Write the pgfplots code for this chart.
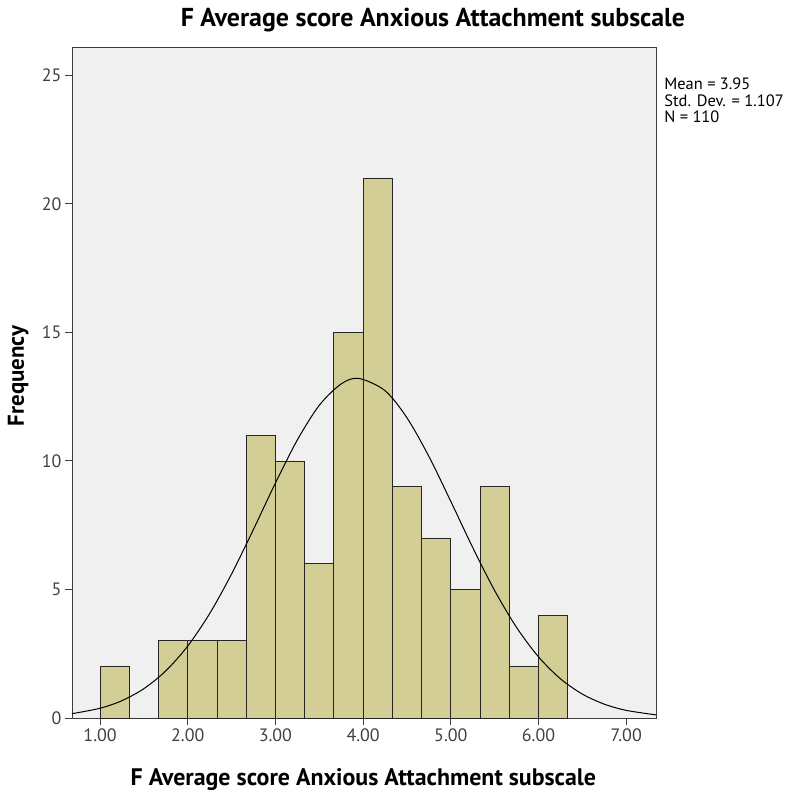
\documentclass[border=0pt]{standalone}
\usepackage{fontspec}
\setmainfont{PT Sans}
\usepackage{pgfplots}
\pgfplotsset{compat=1.18}
\definecolor{barfill}{RGB}{210,206,150}
\definecolor{plotbg}{RGB}{240,240,240}
\definecolor{axisgrey}{RGB}{60,60,60}

\begin{document}
\begin{tikzpicture}
\useasboundingbox (-72bp,-74bp) rectangle (726bp,718bp);
\begin{axis}[
    at={(0,0)}, anchor=south west,
    scale only axis,
    width=584bp, height=671bp,
    xmin=0.68, xmax=7.34,
    ymin=0, ymax=26.1,
    axis background/.style={fill=plotbg},
    axis line style={axisgrey, line width=0.9bp},
    xtick={1,2,3,4,5,6,7},
    ytick={0,5,10,15,20,25},
    xtick pos=bottom, ytick pos=left,
    tick align=outside,
    major tick length=7bp,
    tick style={axisgrey, line width=0.9bp},
    xticklabel style={/pgf/number format/.cd, fixed, fixed zerofill, precision=2},
    /pgf/number format/assume math mode=true,
    ticklabel style={font=\fontsize{18}{21}\selectfont, text=black!75},
    clip=false,
]
% histogram bins of width 1/3
\addplot[ybar interval, fill=barfill, draw=black!85, line width=0.8bp] coordinates {
    (1.0000,2) (1.3333,0) (1.6667,3) (2.0000,3) (2.3333,3) (2.6667,11)
    (3.0000,10) (3.3333,6) (3.6667,15) (4.0000,21) (4.3333,9) (4.6667,7)
    (5.0000,5) (5.3333,9) (5.6667,2) (6.0000,4) (6.3333,4)
};
% normal curve (mean 3.95, sd 1.107, N 110)
\addplot[smooth, black, line width=1bp] coordinates {
    (0.68,0.168) (1.00,0.379) (1.25,0.675) (1.50,1.141) (1.75,1.834)
    (2.00,2.800) (2.25,4.062) (2.50,5.603) (2.75,7.341) (3.00,9.140)
    (3.25,10.816) (3.50,12.163) (3.75,12.996) (3.95,13.210) (4.25,12.733)
    (4.50,11.676) (4.75,10.175) (5.00,8.425) (5.25,6.629) (5.50,4.956)
    (5.75,3.522) (6.00,2.378) (6.25,1.526) (6.50,0.930) (6.75,0.539)
    (7.00,0.297) (7.34,0.122)
};
\node[font=\bfseries\fontsize{26}{30}\selectfont] at (axis description cs:0.618,1.040)
    {F Average score Anxious Attachment subscale};
\node[font=\bfseries\fontsize{24}{28}\selectfont] at (axis description cs:0.499,-0.091)
    {F Average score Anxious Attachment subscale};
\node[font=\bfseries\fontsize{23}{27}\selectfont, rotate=90] at (axis description cs:-0.092,0.510)
    {Frequency};
\node[anchor=north west, align=left, inner sep=0pt, font=\fontsize{16.5}{17}\selectfont]
    at (axis description cs:1.014,0.955)
    {Mean = 3.95\\Std. Dev. = 1.107\\N = 110};
\end{axis}
\end{tikzpicture}
\end{document}
